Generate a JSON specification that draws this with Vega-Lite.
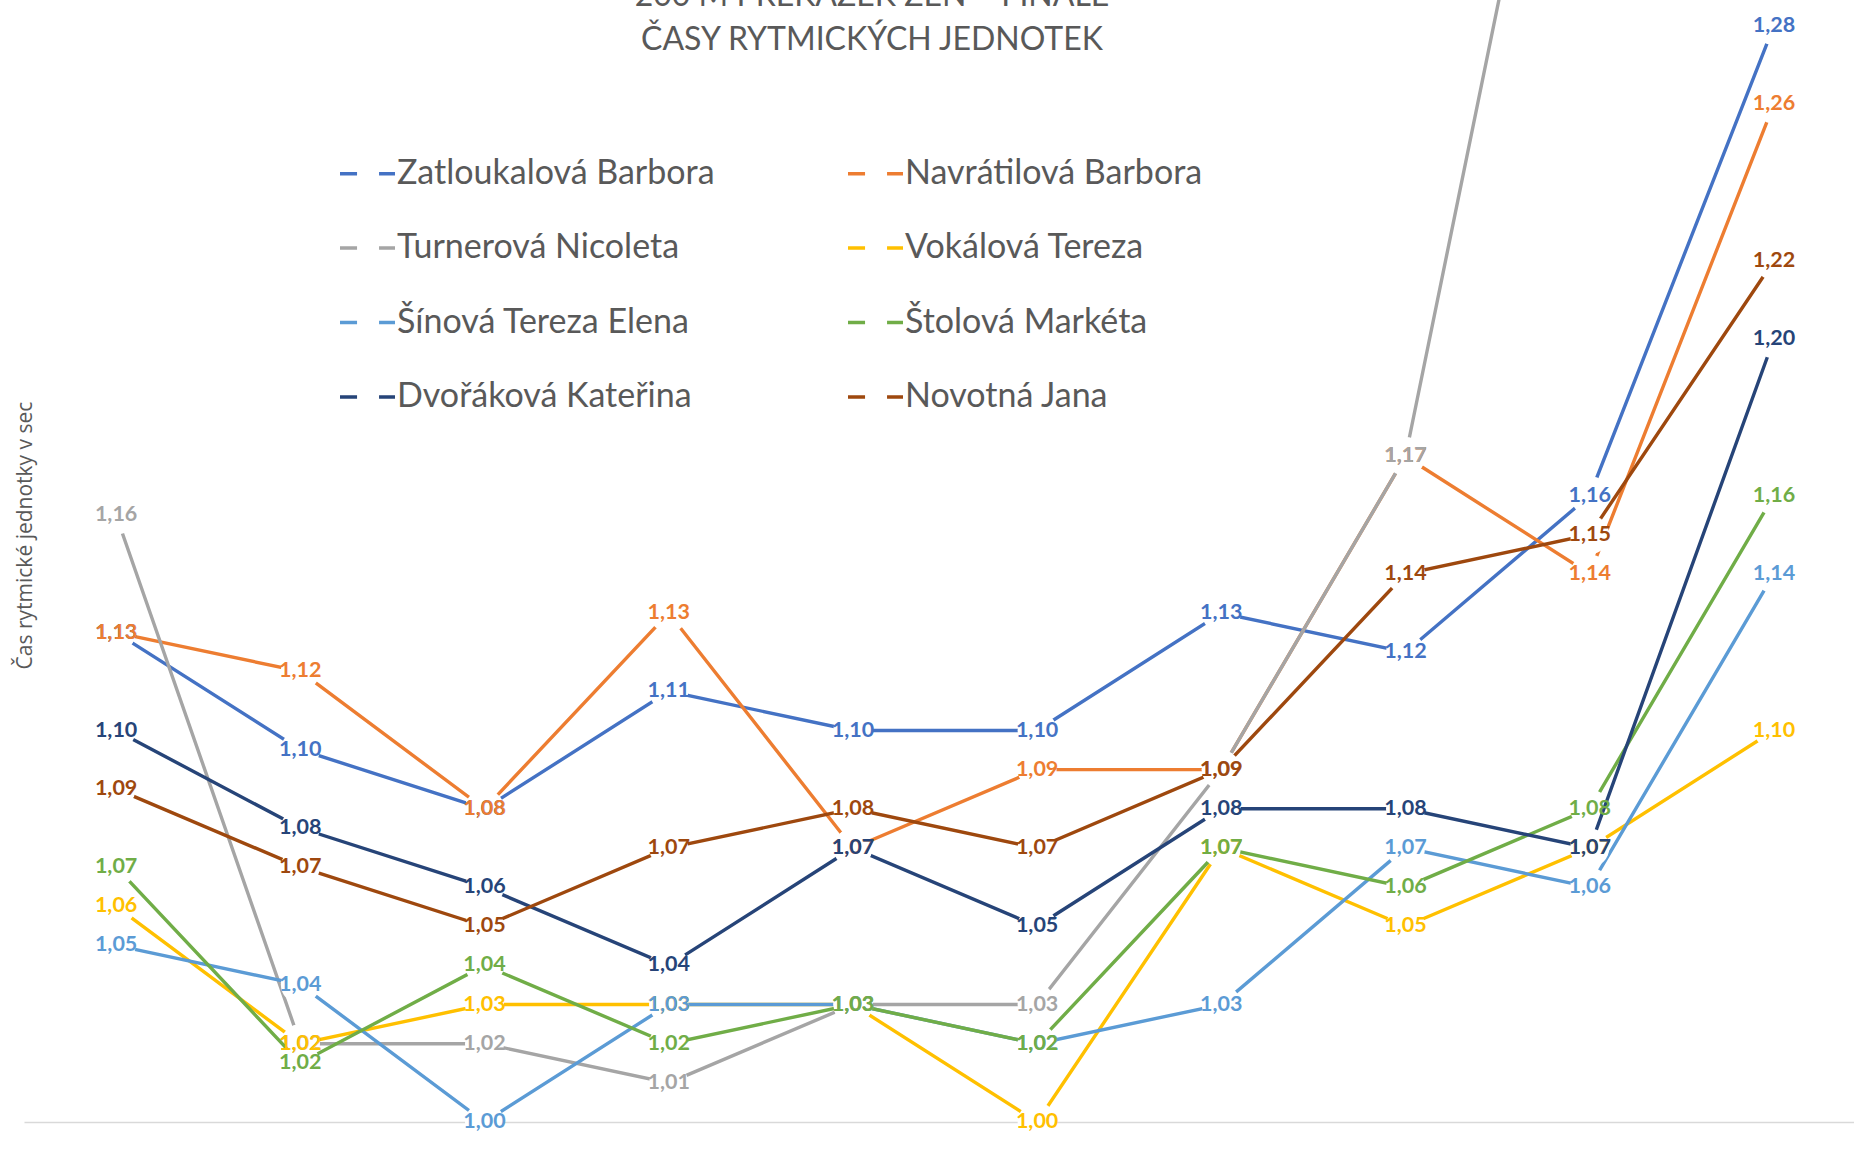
{
  "$schema": "https://vega.github.io/schema/vega-lite/v6.json",
  "autosize": {"type": "none"},
  "width": 1842,
  "height": 1122,
  "padding": {"left": 24, "top": 0, "right": -12, "bottom": 39},
  "background": "white",
  "title": {
    "text": ["200 M PŘEKÁŽEK ŽEN – FINÁLE", "ČASY RYTMICKÝCH JEDNOTEK"],
    "font": "Lato", "fontSize": 32, "fontWeight": "normal", "color": "#595959",
    "anchor": "middle", "frame": "group", "orient": "top",
    "baseline": "alphabetic", "lineHeight": 44, "offset": -82, "dx": -73
  },
  "data": {"values": [
    {"runner": "Zatloukalová Barbora", "jednotka": 1, "cas": 1.125},
    {"runner": "Zatloukalová Barbora", "jednotka": 2, "cas": 1.0951},
    {"runner": "Zatloukalová Barbora", "jednotka": 3, "cas": 1.08},
    {"runner": "Zatloukalová Barbora", "jednotka": 4, "cas": 1.11},
    {"runner": "Zatloukalová Barbora", "jednotka": 5, "cas": 1.10},
    {"runner": "Zatloukalová Barbora", "jednotka": 6, "cas": 1.10},
    {"runner": "Zatloukalová Barbora", "jednotka": 7, "cas": 1.13},
    {"runner": "Zatloukalová Barbora", "jednotka": 8, "cas": 1.12},
    {"runner": "Zatloukalová Barbora", "jednotka": 9, "cas": 1.16},
    {"runner": "Zatloukalová Barbora", "jednotka": 10, "cas": 1.28},
    {"runner": "Navrátilová Barbora", "jednotka": 1, "cas": 1.125},
    {"runner": "Navrátilová Barbora", "jednotka": 2, "cas": 1.1151},
    {"runner": "Navrátilová Barbora", "jednotka": 3, "cas": 1.08},
    {"runner": "Navrátilová Barbora", "jednotka": 4, "cas": 1.13},
    {"runner": "Navrátilová Barbora", "jednotka": 5, "cas": 1.07},
    {"runner": "Navrátilová Barbora", "jednotka": 6, "cas": 1.09},
    {"runner": "Navrátilová Barbora", "jednotka": 7, "cas": 1.09},
    {"runner": "Navrátilová Barbora", "jednotka": 8, "cas": 1.17},
    {"runner": "Navrátilová Barbora", "jednotka": 9, "cas": 1.14},
    {"runner": "Navrátilová Barbora", "jednotka": 10, "cas": 1.26},
    {"runner": "Turnerová Nicoleta", "jednotka": 1, "cas": 1.155},
    {"runner": "Turnerová Nicoleta", "jednotka": 2, "cas": 1.02},
    {"runner": "Turnerová Nicoleta", "jednotka": 3, "cas": 1.02},
    {"runner": "Turnerová Nicoleta", "jednotka": 4, "cas": 1.01},
    {"runner": "Turnerová Nicoleta", "jednotka": 5, "cas": 1.03},
    {"runner": "Turnerová Nicoleta", "jednotka": 6, "cas": 1.03},
    {"runner": "Turnerová Nicoleta", "jednotka": 7, "cas": 1.09},
    {"runner": "Turnerová Nicoleta", "jednotka": 8, "cas": 1.17},
    {"runner": "Turnerová Nicoleta", "jednotka": 9, "cas": 1.40},
    {"runner": "Turnerová Nicoleta", "jednotka": 10, "cas": 1.35},
    {"runner": "Vokálová Tereza", "jednotka": 1, "cas": 1.0551},
    {"runner": "Vokálová Tereza", "jednotka": 2, "cas": 1.02},
    {"runner": "Vokálová Tereza", "jednotka": 3, "cas": 1.03},
    {"runner": "Vokálová Tereza", "jednotka": 4, "cas": 1.03},
    {"runner": "Vokálová Tereza", "jednotka": 5, "cas": 1.03},
    {"runner": "Vokálová Tereza", "jednotka": 6, "cas": 1.00},
    {"runner": "Vokálová Tereza", "jednotka": 7, "cas": 1.07},
    {"runner": "Vokálová Tereza", "jednotka": 8, "cas": 1.05},
    {"runner": "Vokálová Tereza", "jednotka": 9, "cas": 1.07},
    {"runner": "Vokálová Tereza", "jednotka": 10, "cas": 1.10},
    {"runner": "Šínová Tereza Elena", "jednotka": 1, "cas": 1.0451},
    {"runner": "Šínová Tereza Elena", "jednotka": 2, "cas": 1.0351},
    {"runner": "Šínová Tereza Elena", "jednotka": 3, "cas": 1.00},
    {"runner": "Šínová Tereza Elena", "jednotka": 4, "cas": 1.03},
    {"runner": "Šínová Tereza Elena", "jednotka": 5, "cas": 1.03},
    {"runner": "Šínová Tereza Elena", "jednotka": 6, "cas": 1.02},
    {"runner": "Šínová Tereza Elena", "jednotka": 7, "cas": 1.03},
    {"runner": "Šínová Tereza Elena", "jednotka": 8, "cas": 1.07},
    {"runner": "Šínová Tereza Elena", "jednotka": 9, "cas": 1.06},
    {"runner": "Šínová Tereza Elena", "jednotka": 10, "cas": 1.14},
    {"runner": "Štolová Markéta", "jednotka": 1, "cas": 1.0651},
    {"runner": "Štolová Markéta", "jednotka": 2, "cas": 1.0151},
    {"runner": "Štolová Markéta", "jednotka": 3, "cas": 1.04},
    {"runner": "Štolová Markéta", "jednotka": 4, "cas": 1.02},
    {"runner": "Štolová Markéta", "jednotka": 5, "cas": 1.03},
    {"runner": "Štolová Markéta", "jednotka": 6, "cas": 1.02},
    {"runner": "Štolová Markéta", "jednotka": 7, "cas": 1.07},
    {"runner": "Štolová Markéta", "jednotka": 8, "cas": 1.06},
    {"runner": "Štolová Markéta", "jednotka": 9, "cas": 1.08},
    {"runner": "Štolová Markéta", "jednotka": 10, "cas": 1.16},
    {"runner": "Dvořáková Kateřina", "jednotka": 1, "cas": 1.10},
    {"runner": "Dvořáková Kateřina", "jednotka": 2, "cas": 1.0751},
    {"runner": "Dvořáková Kateřina", "jednotka": 3, "cas": 1.06},
    {"runner": "Dvořáková Kateřina", "jednotka": 4, "cas": 1.04},
    {"runner": "Dvořáková Kateřina", "jednotka": 5, "cas": 1.07},
    {"runner": "Dvořáková Kateřina", "jednotka": 6, "cas": 1.05},
    {"runner": "Dvořáková Kateřina", "jednotka": 7, "cas": 1.08},
    {"runner": "Dvořáková Kateřina", "jednotka": 8, "cas": 1.08},
    {"runner": "Dvořáková Kateřina", "jednotka": 9, "cas": 1.07},
    {"runner": "Dvořáková Kateřina", "jednotka": 10, "cas": 1.20},
    {"runner": "Novotná Jana", "jednotka": 1, "cas": 1.0851},
    {"runner": "Novotná Jana", "jednotka": 2, "cas": 1.0651},
    {"runner": "Novotná Jana", "jednotka": 3, "cas": 1.05},
    {"runner": "Novotná Jana", "jednotka": 4, "cas": 1.07},
    {"runner": "Novotná Jana", "jednotka": 5, "cas": 1.08},
    {"runner": "Novotná Jana", "jednotka": 6, "cas": 1.07},
    {"runner": "Novotná Jana", "jednotka": 7, "cas": 1.09},
    {"runner": "Novotná Jana", "jednotka": 8, "cas": 1.14},
    {"runner": "Novotná Jana", "jednotka": 9, "cas": 1.15},
    {"runner": "Novotná Jana", "jednotka": 10, "cas": 1.22}
  ]},
  "encoding": {
    "x": {"field": "jednotka", "type": "ordinal", "scale": {"type": "point", "padding": 0.5},
      "axis": {"title": null, "labels": false, "ticks": false, "grid": false, "domain": true, "domainColor": "#D9D9D9", "domainWidth": 1.5}},
    "y": {"field": "cas", "type": "quantitative", "scale": {"domain": [1, 1.2866], "nice": false, "zero": false},
      "axis": {"title": "Čas rytmické jednotky v sec", "labels": false, "ticks": false, "grid": false, "domain": false,
        "titleFont": "Open Sans", "titleFontSize": 21, "titleFontWeight": "normal", "titleColor": "#595959",
        "titleAngle": -90, "titleX": 7, "titleY": 535, "titleAlign": "center", "titleBaseline": "alphabetic"}}
  },
  "layer": [
    {"transform": [{"filter": {"field": "runner", "equal": "Zatloukalová Barbora"}}], "layer": [
      {"mark": {"type": "line", "strokeWidth": 3.4, "clip": true}, "encoding": {"color": {"field": "runner", "type": "nominal", "scale": {"domain": ["Zatloukalová Barbora", "Turnerová Nicoleta", "Šínová Tereza Elena", "Dvořáková Kateřina", "Navrátilová Barbora", "Vokálová Tereza", "Štolová Markéta", "Novotná Jana"], "range": ["#4472C4", "#A5A5A5", "#5B9BD5", "#264478", "#ED7D31", "#FFC000", "#70AD47", "#9E480E"]}, "legend": {"orient": "none", "legendX": 314, "legendY": 144, "columns": 2, "title": null, "padding": 0, "symbolType": "M-1,0H-0.38M0.42,0H1", "symbolSize": 3025, "symbolStrokeWidth": 3.4, "labelFont": "Lato", "labelFontSize": 34, "labelColor": "#595959", "labelLimit": 700, "labelOffset": 0, "rowPadding": 27.5, "columnPadding": 126}}}},
      {"transform": [{"filter": {"field": "cas", "lt": 1.29}}], "mark": {"type": "point", "shape": "circle", "filled": true, "color": "white", "opacity": 1, "size": 1520, "strokeWidth": 0}}
    ]},
    {"transform": [{"filter": {"field": "runner", "equal": "Navrátilová Barbora"}}], "layer": [
      {"mark": {"type": "line", "strokeWidth": 3.4, "clip": true}, "encoding": {"color": {"field": "runner", "type": "nominal"}}},
      {"transform": [{"filter": {"field": "cas", "lt": 1.29}}], "mark": {"type": "point", "shape": "circle", "filled": true, "color": "white", "opacity": 1, "size": 1520, "strokeWidth": 0}}
    ]},
    {"transform": [{"filter": {"field": "runner", "equal": "Turnerová Nicoleta"}}], "layer": [
      {"mark": {"type": "line", "strokeWidth": 3.4, "clip": true}, "encoding": {"color": {"field": "runner", "type": "nominal"}}},
      {"transform": [{"filter": {"field": "cas", "lt": 1.29}}], "mark": {"type": "point", "shape": "circle", "filled": true, "color": "white", "opacity": 1, "size": 1520, "strokeWidth": 0}}
    ]},
    {"transform": [{"filter": {"field": "runner", "equal": "Vokálová Tereza"}}], "layer": [
      {"mark": {"type": "line", "strokeWidth": 3.4, "clip": true}, "encoding": {"color": {"field": "runner", "type": "nominal"}}},
      {"transform": [{"filter": {"field": "cas", "lt": 1.29}}], "mark": {"type": "point", "shape": "circle", "filled": true, "color": "white", "opacity": 1, "size": 1520, "strokeWidth": 0}}
    ]},
    {"transform": [{"filter": {"field": "runner", "equal": "Šínová Tereza Elena"}}], "layer": [
      {"mark": {"type": "line", "strokeWidth": 3.4, "clip": true}, "encoding": {"color": {"field": "runner", "type": "nominal"}}},
      {"transform": [{"filter": {"field": "cas", "lt": 1.29}}], "mark": {"type": "point", "shape": "circle", "filled": true, "color": "white", "opacity": 1, "size": 1520, "strokeWidth": 0}}
    ]},
    {"transform": [{"filter": {"field": "runner", "equal": "Štolová Markéta"}}], "layer": [
      {"mark": {"type": "line", "strokeWidth": 3.4, "clip": true}, "encoding": {"color": {"field": "runner", "type": "nominal"}}},
      {"transform": [{"filter": {"field": "cas", "lt": 1.29}}], "mark": {"type": "point", "shape": "circle", "filled": true, "color": "white", "opacity": 1, "size": 1520, "strokeWidth": 0}}
    ]},
    {"transform": [{"filter": {"field": "runner", "equal": "Dvořáková Kateřina"}}], "layer": [
      {"mark": {"type": "line", "strokeWidth": 3.4, "clip": true}, "encoding": {"color": {"field": "runner", "type": "nominal"}}},
      {"transform": [{"filter": {"field": "cas", "lt": 1.29}}], "mark": {"type": "point", "shape": "circle", "filled": true, "color": "white", "opacity": 1, "size": 1520, "strokeWidth": 0}}
    ]},
    {"transform": [{"filter": {"field": "runner", "equal": "Novotná Jana"}}], "layer": [
      {"mark": {"type": "line", "strokeWidth": 3.4, "clip": true}, "encoding": {"color": {"field": "runner", "type": "nominal"}}},
      {"transform": [{"filter": {"field": "cas", "lt": 1.29}}], "mark": {"type": "point", "shape": "circle", "filled": true, "color": "white", "opacity": 1, "size": 1520, "strokeWidth": 0}}
    ]},
    {"transform": [{"filter": {"field": "cas", "lt": 1.29}}],
     "mark": {"type": "text", "font": "Lato", "fontSize": 21.5, "fontWeight": "bold", "align": "center", "baseline": "middle"},
     "encoding": {
       "text": {"field": "cas", "type": "quantitative", "format": ".2f"},
       "color": {"field": "runner", "type": "nominal", "legend": null}
     }}
  ],
  "config": {
    "view": {"stroke": null},
    "locale": {"number": {"decimal": ",", "thousands": " ", "grouping": [3], "currency": ["", " Kč"]}}
  }
}
